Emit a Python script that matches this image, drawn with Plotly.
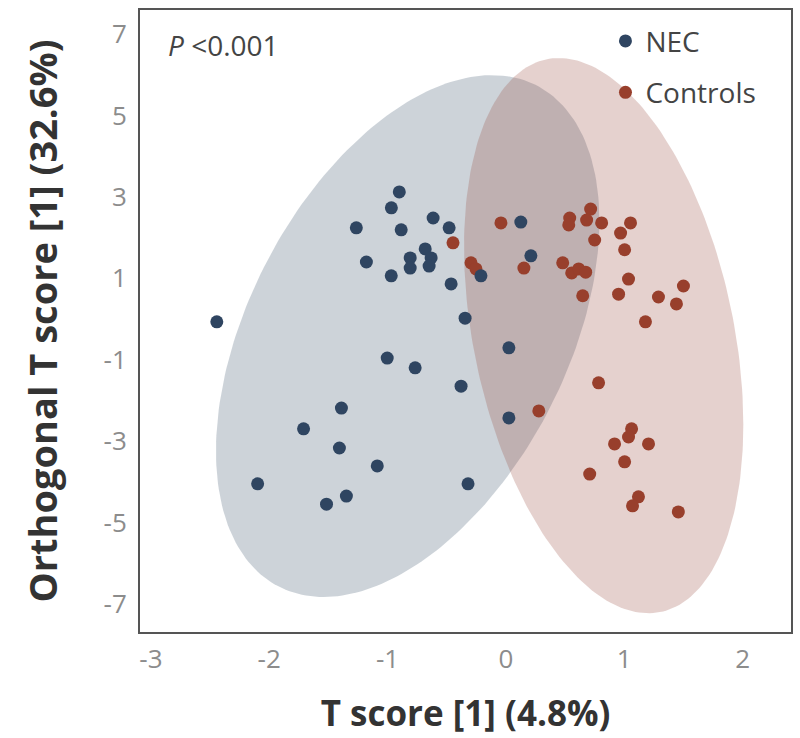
import numpy as np
import plotly.graph_objects as go

# ---- data ----
nec_x = [-0.901, -0.968, -1.264, -0.885, -0.615, -0.480, -0.682, -0.809, -0.632, -0.809,
         -0.649, -1.179, -0.969, -0.463, -0.345, -2.443, -1.003, -0.767, -0.379, -1.390,
         0.126, 0.211, -0.211, 0.025, 0.025, -1.710, -1.407, -1.087, -2.098, -1.348,
         -1.516, -0.320]
nec_y = [3.12, 2.73, 2.24, 2.19, 2.48, 2.24, 1.72, 1.50, 1.50, 1.25,
         1.30, 1.40, 1.06, 0.86, 0.02, -0.07, -0.96, -1.20, -1.65, -2.19,
         2.38, 1.55, 1.06, -0.71, -2.43, -2.70, -3.17, -3.61, -4.05, -4.35,
         -4.55, -4.05]

ctrl_x = [-0.447, -0.042, 0.539, 0.531, 0.716, 0.682, 0.809, 1.053, 0.969, 0.750,
          1.003, 0.152, -0.295, -0.253, 0.480, 0.556, 0.615, 0.674, 0.649, 0.952,
          1.036, 1.289, 1.500, 1.441, 1.179, 0.783, 0.278, 1.062, 1.036, 0.918,
          1.205, 1.003, 0.708, 1.120, 1.070, 1.457]
ctrl_y = [1.87, 2.36, 2.48, 2.31, 2.70, 2.43, 2.36, 2.36, 2.11, 1.94,
          1.70, 1.25, 1.38, 1.23, 1.38, 1.13, 1.23, 1.15, 0.57, 0.61,
          0.98, 0.54, 0.81, 0.37, -0.07, -1.57, -2.26, -2.70, -2.90, -3.07,
          -3.07, -3.51, -3.81, -4.37, -4.59, -4.74]

# confidence ellipses: centre x, centre y, half-width x, half-height y, correlation
nec_ellipse = [-0.83, -0.42, 1.62, 6.41, 0.44]
ctrl_ellipse = [0.826, -0.41, 1.18, 6.82, -0.32]

x_ticks = [-3, -2, -1, 0, 1, 2]
x_tick_labels = ["-3", "-2", "-1", "0", "1", "2"]
y_ticks = [-7, -5, -3, -1, 1, 3, 5, 7]
y_tick_labels = ["-7", "-5", "-3", "-1", "1", "3", "5", "7"]

NEC_COLOR = "#2f4561"
CTRL_COLOR = "#983f2c"


def ellipse(params, n=240):
    cx, cy, hx, hy, rho = params
    t = np.linspace(0, 2 * np.pi, n)
    x = cx + hx * np.cos(t)
    y = cy + hy * (rho * np.cos(t) + np.sqrt(1 - rho ** 2) * np.sin(t))
    return x, y


fig = go.Figure()
ex, ey = ellipse(nec_ellipse)
fig.add_trace(go.Scatter(x=ex, y=ey, mode="lines", fill="toself",
                         fillcolor="rgba(47,69,97,0.24)", line=dict(width=0),
                         hoverinfo="skip", showlegend=False))
ex, ey = ellipse(ctrl_ellipse)
fig.add_trace(go.Scatter(x=ex, y=ey, mode="lines", fill="toself",
                         fillcolor="rgba(150,70,60,0.25)", line=dict(width=0),
                         hoverinfo="skip", showlegend=False))
fig.add_trace(go.Scatter(x=ctrl_x, y=ctrl_y, mode="markers", name="Controls",
                         legendgroup="c", legendrank=2,
                         marker=dict(color=CTRL_COLOR, size=13, line=dict(width=0))))
fig.add_trace(go.Scatter(x=nec_x, y=nec_y, mode="markers", name="NEC",
                         legendgroup="n", legendrank=1,
                         marker=dict(color=NEC_COLOR, size=13, line=dict(width=0))))

fig.add_annotation(text="<i>P</i> &lt;0.001", xref="paper", yref="paper",
                   x=0.040, y=0.944, xanchor="left", yanchor="middle",
                   showarrow=False, font=dict(family="Open Sans", size=28, color="#444"))

axis_common = dict(showgrid=False, zeroline=False, showline=True, mirror=True,
                   linecolor="#555", linewidth=2, ticks="",
                   tickfont=dict(family="Open Sans", size=26, color="#8c8c8c"))

fig.update_xaxes(range=[-3.092, 2.409], tickvals=x_ticks, ticktext=x_tick_labels,
                 title=dict(text="<b>T score [1] (4.8%)</b>", standoff=26,
                            font=dict(family="Open Sans", size=35, color="#333")),
                 ticklabelstandoff=3, **axis_common)
fig.update_yaxes(range=[-7.69, 7.59], tickvals=y_ticks, ticktext=y_tick_labels,
                 title=dict(text="<b>Orthogonal T score [1] (32.6%)</b>", standoff=34,
                            font=dict(family="Open Sans", size=38, color="#333")),
                 ticklabelstandoff=6, **axis_common)

fig.update_layout(
    width=800, height=738,
    margin=dict(l=140, r=7, t=10, b=106),
    paper_bgcolor="white", plot_bgcolor="white",
    showlegend=True,
    legend=dict(x=0.715, y=0.99, xanchor="left", yanchor="top",
                bgcolor="rgba(0,0,0,0)", traceorder="grouped", tracegroupgap=12,
                font=dict(family="Open Sans", size=28, color="#444")),
)

fig.write_html("out.html")
